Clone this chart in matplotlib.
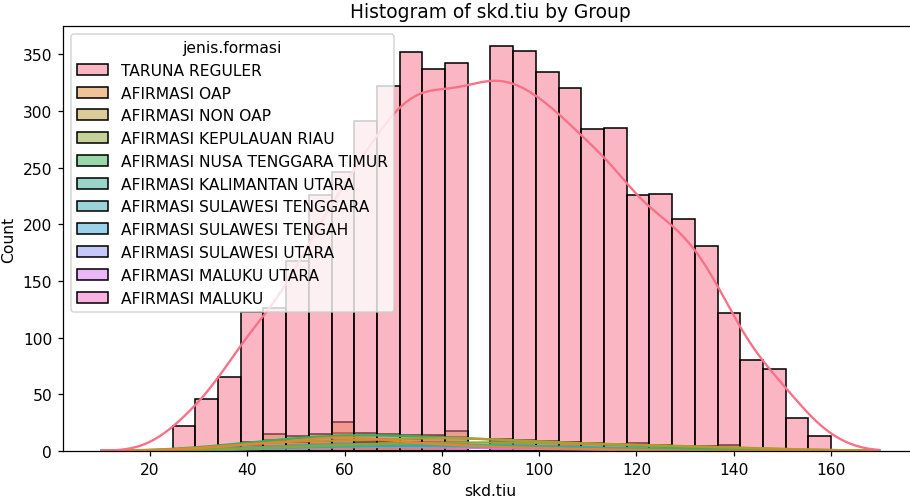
import numpy as np
import pandas as pd
import matplotlib
matplotlib.use("Agg")
import matplotlib.pyplot as plt
import seaborn as sns

# skd.tiu scores (multiples of 5) and counts per formation
scores = [20, 25, 30, 35, 40, 45, 50, 55, 60, 65, 70, 75, 80, 85, 90,
          95, 100, 105, 110, 115, 120, 125, 130, 135, 140, 145, 150, 155, 160]

groups = ['TARUNA REGULER', 'AFIRMASI OAP', 'AFIRMASI NON OAP',
          'AFIRMASI KEPULAUAN RIAU', 'AFIRMASI NUSA TENGGARA TIMUR',
          'AFIRMASI KALIMANTAN UTARA', 'AFIRMASI SULAWESI TENGGARA',
          'AFIRMASI SULAWESI TENGAH', 'AFIRMASI SULAWESI UTARA',
          'AFIRMASI MALUKU UTARA', 'AFIRMASI MALUKU']

taruna  = [1, 22, 46, 65, 123, 126, 168, 226, 246, 291, 322, 352, 337, 342, 357,
           353, 334, 320, 284, 285, 226, 227, 205, 181, 122, 80, 72, 29, 13]
oap     = [0, 1, 2, 4, 6, 9, 8, 9, 26, 8, 9, 7, 6, 5, 4,
           3, 3, 2, 2, 1, 1, 1, 0, 0, 0, 0, 0, 0, 0]
non_oap = [0, 1, 2, 3, 5, 15, 8, 9, 10, 10, 11, 11, 14, 18, 9,
           9, 8, 8, 7, 6, 7, 5, 4, 3, 5, 2, 2, 1, 1]
kepri   = [0, 0, 1, 1, 2, 3, 4, 5, 6, 7, 7, 8, 8, 8, 8,
           9, 8, 8, 7, 6, 6, 5, 4, 4, 3, 2, 2, 1, 1]
ntt     = [0, 1, 3, 5, 8, 10, 13, 15, 16, 16, 15, 14, 13, 12, 11,
           10, 9, 8, 7, 6, 5, 4, 3, 2, 2, 1, 1, 0, 0]
kaltara = [0, 0, 1, 1, 2, 3, 3, 4, 5, 5, 5, 5, 5, 5, 4,
           4, 4, 3, 3, 2, 2, 2, 1, 1, 1, 0, 0, 0, 0]
sultra  = [0, 1, 1, 2, 3, 4, 5, 6, 7, 7, 7, 7, 7, 6, 6,
           5, 4, 4, 3, 3, 2, 2, 1, 1, 0, 0, 0, 0, 0]
sulteng = [0, 0, 1, 2, 3, 4, 5, 6, 6, 7, 7, 7, 6, 6, 5,
           5, 4, 4, 3, 2, 2, 1, 1, 1, 0, 0, 0, 0, 0]
sulut   = [0, 0, 0, 1, 2, 2, 3, 3, 4, 4, 5, 5, 5, 4, 4,
           4, 3, 3, 3, 2, 2, 1, 1, 1, 0, 0, 0, 0, 0]
malut   = [0, 0, 1, 1, 2, 3, 3, 4, 4, 4, 4, 4, 3, 3, 3,
           2, 2, 2, 1, 1, 1, 0, 0, 0, 0, 0, 0, 0, 0]
maluku  = [0, 1, 1, 2, 3, 4, 5, 6, 6, 7, 6, 6, 5, 5, 4,
           4, 3, 3, 2, 2, 1, 1, 1, 0, 0, 0, 0, 0, 0]

counts = [taruna, oap, non_oap, kepri, ntt, kaltara, sultra, sulteng, sulut, malut, maluku]

frames = []
for g, c in zip(groups, counts):
    frames.append(pd.DataFrame({'skd.tiu': np.repeat(scores, c).astype(float),
                                'jenis.formasi': g}))
df = pd.concat(frames, ignore_index=True)

fig = plt.figure(figsize=(910 / 112, 502 / 112), dpi=112)
ax = fig.add_axes([0.0692, 0.0996, 0.9396, 0.8466])
sns.histplot(data=df, x='skd.tiu', hue='jenis.formasi', hue_order=groups,
             kde=True, bins=30, kde_kws={'cut': 2}, ax=ax)
ax.set_title('Histogram of skd.tiu by Group')
fig.savefig('out.png', dpi=112)
